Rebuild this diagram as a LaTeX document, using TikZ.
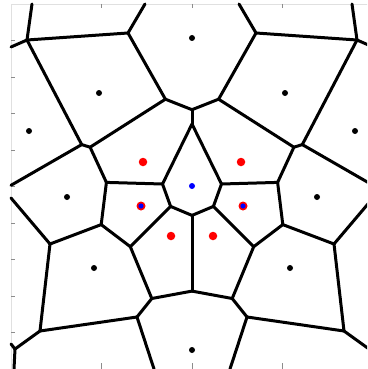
\documentclass[tikz,border=0pt]{standalone}
\begin{document}
\begin{tikzpicture}[x=1pt,y=-1pt,
  edge/.style={line width=3pt,black,line cap=round,line join=round},
  axisline/.style={line width=0.8pt,black!12},
  tick/.style={line width=0.8pt,black!45},
  bdot/.style={circle,fill=black,inner sep=0pt,minimum size=6pt},
  rdot/.style={circle,fill=red,inner sep=0pt,minimum size=8.5pt},
  bldot/.style={circle,fill=blue,inner sep=0pt,minimum size=6pt},
  rbdot/.style={circle,fill=red,inner sep=0pt,minimum size=9pt,path picture={\fill[blue] (path picture bounding box.center) circle (2.6pt);}}]
\useasboundingbox (0,0) rectangle (367,369);
\fill[white] (0,0) rectangle (367,369);
\clip (0,0) rectangle (367,369);
% axes
\draw[axisline] (11,369) -- (11,4) -- (373,4) -- (373,369);
\foreach \t in {40.5,77,113.5,150,186.5,223,259.5,296,332.5}{
  \draw[tick] (11,\t) -- (14.5,\t);
}
\foreach \t in {101.5,192,282.5}{
  \draw[tick] (\t,4) -- (\t,8);
  \draw[tick] (\t,369) -- (\t,363);
}
% Voronoi vertices (left half) and their mirror images
\foreach \n/\x/\y in {A/27/40, B/128/33, C/81.7/144.6, D/165.4/99.2, E/90.1/147.2,
  F/192/109.7, G/192/124, H/162.5/184, I/106.4/182.4, J/170.6/206.4, K/192/215.4,
  L/130.3/246.7, M/101.2/224.6, N/50/244, O/40/331, P/137/317, Q/15/349,
  R/151.8/298.5, S/192/291.1,
  tA/32/4, lA/11/47, tB/145/4, lC/11/185.3, lN/11/198, lQ/11/344, bQ/14/369, bP/154/369}{
  \coordinate (\n) at (\x,\y);
  \coordinate (\n-r) at (384-\x,\y);
}
% edges
\foreach \a/\b in {A/tA, A/lA, A/B, A/C, B/tB, B/D, D/E, D/F, C/E, C/lC, E/I,
  G/H, H/I, H/J, I/M, J/K, J/L, L/M, L/R, M/N, N/lN, N/O, O/P, O/Q, Q/lQ, Q/bQ,
  P/R, P/bP, R/S}{
  \draw[edge] (\a) -- (\b);
  \draw[edge] (\a-r) -- (\b-r);
}
\draw[edge] (F) -- (G);
\draw[edge] (K) -- (S);
% sites
\node[bdot] (s1) at (192,38) {};
\node[bdot] (s2) at (99,93) {};
\node[bdot] (s3) at (285,93) {};
\node[bdot] (s4) at (29,131) {};
\node[bdot] (s5) at (355,131) {};
\node[bdot] (s6) at (67,197) {};
\node[bdot] (s7) at (317,197) {};
\node[bdot] (s8) at (94,268) {};
\node[bdot] (s9) at (290,268) {};
\node[bdot] (s10) at (192,350) {};
\node[rdot] (r1) at (143,162) {};
\node[rdot] (r2) at (241,162) {};
\node[rdot] (r3) at (171,236) {};
\node[rdot] (r4) at (213,236) {};
\node[rbdot] (rb1) at (141,206) {};
\node[rbdot] (rb2) at (243,206) {};
\node[bldot] (c0) at (192,186) {};
\end{tikzpicture}
\end{document}
